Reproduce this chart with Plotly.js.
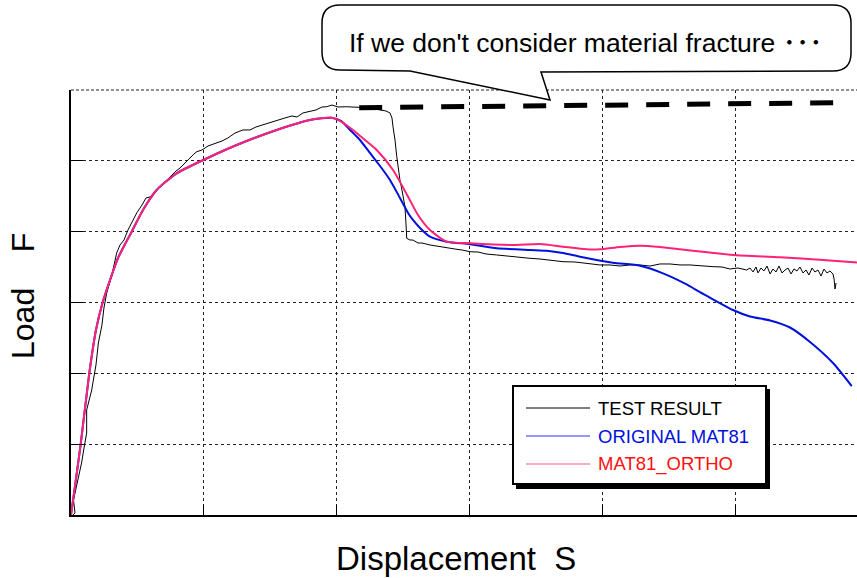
<!DOCTYPE html>
<html>
<head>
<meta charset="utf-8">
<script src="https://cdn.plot.ly/plotly-3.0.1.min.js"></script>
<style>
html,body{margin:0;padding:0;background:#fff;overflow:hidden;}
#chart{width:857px;height:578px;}
</style>
</head>
<body>
<div id="chart"></div>
<script>
// ---- data (grid units: 1 unit = one grid division) ----
const testX = [0.015,0.030,0.019,0.045,0.081,0.098,0.118,0.118,0.143,0.156,0.166,0.188,0.206,0.226,0.233,0.248,0.269,0.286,0.309,0.324,0.344,0.369,0.399,0.429,0.459,0.495,0.535,0.565,0.595,0.633,0.670,0.708,0.745,0.783,0.821,0.858,0.896,0.926,0.947,0.986,1.032,1.097,1.137,1.182,1.235,1.295,1.348,1.393,1.461,1.549,1.611,1.664,1.702,1.747,1.800,1.845,1.890,1.925,1.965,2.011,2.076,2.139,2.214,2.267,2.327,2.372,2.402,2.417,2.425,2.440,2.453,2.462,2.477,2.492,2.515,2.523,2.528,2.553,2.575,2.613,2.643,2.703,2.748,2.829,2.892,2.944,3.005,3.065,3.125,3.206,3.268,3.343,3.419,3.456,3.532,3.607,3.705,3.795,3.870,3.946,3.983,4.059,4.134,4.209,4.285,4.360,4.435,4.511,4.586,4.661,4.736,4.834,4.902,4.962,5.023,
  5.088,5.113,5.136,5.158,5.173,5.196,5.218,5.241,5.264,5.286,5.309,5.331,5.354,5.377,5.399,5.422,5.444,5.467,5.489,5.512,5.535,5.557,5.580,5.602,5.625,5.648,5.670,5.693,5.715,5.738,5.746,5.753,5.761];
const testY = [0.000,0.028,0.212,0.424,0.748,0.946,1.158,1.482,1.652,1.765,1.878,2.118,2.428,2.612,2.682,2.922,3.134,3.247,3.388,3.530,3.699,3.812,3.882,4.024,4.137,4.264,4.377,4.476,4.490,4.561,4.635,4.701,4.772,4.843,4.899,4.970,5.054,5.097,5.129,5.153,5.210,5.252,5.280,5.323,5.393,5.436,5.436,5.478,5.520,5.577,5.605,5.633,5.619,5.676,5.704,5.718,5.760,5.764,5.788,5.760,5.764,5.760,5.746,5.746,5.718,5.704,5.676,5.605,5.478,5.294,5.059,4.899,4.730,4.588,4.353,4.094,3.906,3.882,3.882,3.840,3.840,3.812,3.798,3.765,3.755,3.741,3.717,3.713,3.685,3.671,3.657,3.643,3.628,3.624,3.614,3.600,3.576,3.572,3.558,3.544,3.530,3.530,3.515,3.530,3.530,3.515,3.544,3.544,3.530,3.530,3.515,3.506,3.501,3.473,3.487,
  3.459,3.487,3.431,3.501,3.417,3.487,3.445,3.515,3.403,3.473,3.431,3.515,3.417,3.459,3.487,3.403,3.473,3.445,3.501,3.417,3.459,3.388,3.487,3.431,3.459,3.374,3.473,3.417,3.445,3.403,3.332,3.191,3.276];

const rampX = [0.000,0.023,0.073,0.138,0.188,0.239,0.294,0.354,0.457,0.542,0.645,0.796,0.996,1.248,1.549,1.800,1.963];
const rampY = [0.000,0.311,1.002,2.005,2.612,3.007,3.318,3.628,4.000,4.306,4.588,4.824,5.012,5.224,5.436,5.577,5.609];

const origTailX = [2.033,2.101,2.176,2.251,2.327,2.402,2.477,2.538,2.575,2.628,2.703,2.829,3.005,3.206,3.456,3.582,3.705,3.833,4.081,4.285,4.458,4.636,4.736,4.834,4.985,5.113,5.264,5.414,5.565,5.738,5.879];
const origTailY = [5.563,5.436,5.294,5.111,4.927,4.730,4.476,4.264,4.165,4.052,3.929,3.859,3.822,3.765,3.741,3.731,3.699,3.647,3.562,3.519,3.412,3.255,3.145,3.045,2.894,2.802,2.746,2.647,2.443,2.146,1.821];

const orthoTailX = [2.041,2.123,2.214,2.302,2.425,2.538,2.613,2.703,2.829,3.005,3.328,3.532,3.705,3.883,3.983,4.134,4.285,4.435,4.586,4.774,4.985,5.339,5.663,5.919];
const orthoTailY = [5.548,5.436,5.294,5.153,4.870,4.494,4.235,4.023,3.859,3.836,3.812,3.826,3.788,3.751,3.751,3.784,3.802,3.784,3.751,3.713,3.671,3.638,3.600,3.565];

const noFractureX = [2.17,3.82,5.75];
const noFractureY = [5.75,5.78,5.82];

const seriesNames = ['TEST RESULT','ORIGINAL MAT81','MAT81_ORTHO'];
const calloutText = "If we don't consider material fracture \uFF65\uFF65\uFF65";
const xTitle = 'Displacement\u00A0\u00A0S';
const yTitle = 'Load\u00A0\u00A0\u00A0\u00A0F';

// ---- layout geometry (pixels) ----
const L = 71, T = 90, PW = 786, PH = 425;
const px = x => (x - L) / PW;
const py = y => (T + PH - y) / PH;

const FONT = 'Liberation Sans, Arial, sans-serif';
const BLUE = '#0010dd', PINK = '#ff2277';

const traces = [
  {x: testX, y: testY, mode: 'lines', name: seriesNames[0], line: {color: '#000', width: 1}},
  {x: rampX.concat(origTailX), y: rampY.concat(origTailY), mode: 'lines', name: seriesNames[1], line: {color: BLUE, width: 2, shape: 'spline', smoothing: 0.6}},
  {x: rampX.concat(orthoTailX), y: rampY.concat(orthoTailY), mode: 'lines', name: seriesNames[2], line: {color: PINK, width: 2, shape: 'spline', smoothing: 0.6}},
  {x: noFractureX, y: noFractureY, mode: 'lines', name: 'no fracture', line: {color: '#000', width: 5, dash: '23px,18px'}}
];

// balloon path
function P(x, y) { return px(x).toFixed(5) + ',' + py(y).toFixed(5); }
const balloon = 'M' + P(340,5) + ' L' + P(833,5) + ' Q' + P(851,5) + ' ' + P(851,23) +
  ' L' + P(851,53) + ' Q' + P(851,71) + ' ' + P(833,71) + ' L' + P(541,72) + ' L' + P(550,100) +
  ' L' + P(410,71) + ' L' + P(340,70) + ' Q' + P(322,70) + ' ' + P(322,52) + ' L' + P(322,23) +
  ' Q' + P(322,5) + ' ' + P(340,5) + ' Z';

const legRows = [408, 436, 464];
const legLineColors = ['#000', '#3030e8', '#ff5588'];
const legTextColors = ['#000', '#0010e0', '#ff1010'];

const shapes = [
  {type: 'line', xref: 'paper', yref: 'paper', x0: 0, x1: 1, y0: 1, y1: 1, line: {color: '#222', width: 1.2, dash: '3px,2px'}},
  {type: 'path', xref: 'paper', yref: 'paper', path: balloon, fillcolor: '#fff', line: {color: '#000', width: 1.5}},
  {type: 'rect', xref: 'paper', yref: 'paper', x0: px(516), x1: px(770), y0: py(389), y1: py(489), fillcolor: '#000', line: {width: 0}},
  {type: 'rect', xref: 'paper', yref: 'paper', x0: px(513), x1: px(766), y0: py(386), y1: py(484), fillcolor: '#fff', line: {color: '#000', width: 2}}
];
legRows.forEach((r, i) => shapes.push({type: 'line', xref: 'paper', yref: 'paper', x0: px(526), x1: px(590), y0: py(r), y1: py(r), line: {color: legLineColors[i], width: 1}}));

const annotations = [
  {text: calloutText, xref: 'paper', yref: 'paper', x: px(585), y: py(43), xanchor: 'center', yanchor: 'middle', showarrow: false, font: {family: FONT + ', Noto Sans CJK JP', size: 26.5, color: '#000'}},
  {text: xTitle, xref: 'paper', yref: 'paper', x: px(456), y: py(558), xanchor: 'center', yanchor: 'middle', showarrow: false, font: {family: FONT, size: 33, color: '#000'}},
  {text: yTitle, xref: 'paper', yref: 'paper', x: px(23), y: py(296), xanchor: 'center', yanchor: 'middle', textangle: -90, showarrow: false, font: {family: FONT, size: 32, color: '#000'}}
];
legRows.forEach((r, i) => annotations.push({text: seriesNames[i], xref: 'paper', yref: 'paper', x: px(596), y: py(r), xanchor: 'left', yanchor: 'middle', showarrow: false, font: {family: FONT, size: 18.5, color: legTextColors[i]}}));

const layout = {
  width: 857, height: 578,
  margin: {l: L, r: 0, t: T, b: 578 - T - PH, pad: 0},
  paper_bgcolor: '#fff', plot_bgcolor: '#fff',
  showlegend: false,
  xaxis: {range: [0, PW / 132.8], tickvals: [1,2,3,4,5], showticklabels: false, ticks: 'inside', ticklen: 10, tickcolor: '#000', tickwidth: 1,
    showgrid: true, gridcolor: '#222', griddash: '3px,3px', gridwidth: 1, showline: true, linecolor: '#000', linewidth: 1.5, zeroline: false, fixedrange: true},
  yaxis: {range: [0, 6], tickvals: [1,2,3,4,5], showticklabels: false, ticks: 'inside', ticklen: 12, tickcolor: '#000', tickwidth: 1,
    showgrid: true, gridcolor: '#222', griddash: '3px,3px', gridwidth: 1, showline: true, linecolor: '#000', linewidth: 2, zeroline: false, fixedrange: true},
  shapes: shapes,
  annotations: annotations
};

Plotly.newPlot('chart', traces, layout, {displayModeBar: false, staticPlot: true});
</script>
</body>
</html>
